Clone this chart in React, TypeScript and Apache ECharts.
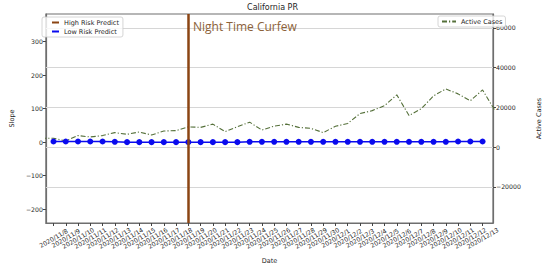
import React, { useEffect, useRef } from "react";
import * as echarts from "echarts";

// Tick labels / categories (one per observed day)
const dates: string[] = [
  "2020/11/8", "2020/11/9", "2020/11/10", "2020/11/11", "2020/11/12", "2020/11/13",
  "2020/11/14", "2020/11/15", "2020/11/16", "2020/11/17", "2020/11/18", "2020/11/19",
  "2020/11/20", "2020/11/21", "2020/11/22", "2020/11/23", "2020/11/24", "2020/11/25",
  "2020/11/26", "2020/11/27", "2020/11/28", "2020/11/29", "2020/11/30", "2020/12/1",
  "2020/12/2", "2020/12/3", "2020/12/4", "2020/12/5", "2020/12/6", "2020/12/7",
  "2020/12/8", "2020/12/9", "2020/12/10", "2020/12/11", "2020/12/12", "2020/12/13",
];

// Low risk predict slope values (left axis)
const lowRisk: number[] = [
  2, 2, 2, 2, 2, 1, 0, 0, 0, 0, 0, 0, 0, 0, 0, 0, 1, 1,
  1, 1, 1, 1, 1, 1, 1, 1, 1, 1, 1, 1, 1, 1, 1, 2, 2, 2,
];

// Active cases (right axis); first value is the day before 2020/11/8, last the day after 2020/12/13
const activeCases: number[] = [
  4470,
  4470, 3130, 5800, 5100, 5800, 7300, 6450, 7600, 6100, 8100, 8300, 10200,
  9930, 11560, 7790, 10270, 12560, 8590, 10570, 11560, 9930, 9430, 7300, 10500,
  11900, 16870, 18360, 20840, 26300, 15880, 19350, 25800, 29280, 26800, 23330, 28790,
  18500,
];

// Curfew marker date index
const curfewIndex = 11;
const curfewLabel = "Night Time Curfew";

const leftTicks: number[] = [-200, -100, 0, 100, 200, 300];
const rightTicks: number[] = [-20000, 0, 20000, 40000, 60000];

const FONT = "DejaVu Sans";
const LABEL = "#262626";

export default function App() {
  const ref = useRef<HTMLDivElement>(null);
  useEffect(() => {
    if (!ref.current) return;
    const chart = echarts.init(ref.current, null, { renderer: "svg" });
    const idx = dates.map((_, i) => i);
    const fmt = (v: number) => (v < 0 ? "\u2212" + Math.abs(v) : String(v));
    const option: any = {
      animation: false,
      backgroundColor: "#ffffff",
      textStyle: { fontFamily: FONT },
      grid: {
        left: 38, right: 43, top: 14, bottom: 43,
        show: true, borderColor: "#6e6e6e", borderWidth: 1.2, backgroundColor: "transparent",
      },
      legend: [
        {
          orient: "vertical", left: 42, top: 17,
          itemWidth: 7, itemHeight: 2, itemGap: 2,
          padding: [2, 4, 2, 10],
          borderColor: "#cccccc", borderWidth: 0.8, borderRadius: 2,
          backgroundColor: "rgba(255,255,255,0.8)",
          textStyle: { fontSize: 6.5, color: LABEL, fontFamily: FONT },
          data: [
            { name: "High Risk Predict", icon: "rect" },
            { name: "Low Risk Predict", icon: "rect" },
          ],
        },
        {
          orient: "vertical", left: 438, top: 16,
          itemWidth: 14, itemHeight: 6, itemGap: 2,
          padding: [2, 3, 2, 3],
          borderColor: "#cccccc", borderWidth: 0.8, borderRadius: 2,
          backgroundColor: "rgba(255,255,255,0.8)",
          textStyle: { fontSize: 6.5, color: LABEL, fontFamily: FONT },
          itemStyle: { opacity: 0 },
          data: [{ name: "Active Cases" }],
        },
      ],
      xAxis: {
        type: "value",
        min: -0.62, max: 35.85,
        name: "Date", nameLocation: "middle", nameGap: 34,
        nameTextStyle: { fontSize: 6.5, color: LABEL, fontFamily: FONT },
        axisLine: { show: true, onZero: false, lineStyle: { color: "#6e6e6e", width: 1.2 } },
        axisTick: { show: true, length: 3, customValues: idx, lineStyle: { color: "#444" } },
        axisLabel: {
          customValues: idx,
          formatter: (v: number) => dates[Math.round(v)] ?? "",
          rotate: 30, align: "center", verticalAlign: "middle", margin: 15,
          fontSize: 6.2, color: LABEL, fontFamily: FONT,
        },
        splitLine: { show: false },
      },
      yAxis: [
        {
          type: "value", position: "left",
          min: -241, max: 382,
          name: "Slope", nameLocation: "middle", nameGap: 28,
          nameTextStyle: { fontSize: 6.5, color: LABEL, fontFamily: FONT },
          axisLine: { show: true, onZero: false, lineStyle: { color: "#6e6e6e", width: 1.2 } },
          axisTick: { show: true, length: 3, customValues: leftTicks, lineStyle: { color: "#444" } },
          axisLabel: {
            customValues: leftTicks, fontSize: 6.2, color: LABEL, margin: 3, fontFamily: FONT,
            formatter: fmt,
          },
          splitLine: { show: false },
        },
        {
          type: "value", position: "right",
          min: -38200, max: 67000,
          name: "Active Cases", nameLocation: "middle", nameGap: 42, nameRotate: 90,
          nameTextStyle: { fontSize: 6.5, color: LABEL, fontFamily: FONT },
          axisLine: { show: true, onZero: false, lineStyle: { color: "#6e6e6e", width: 1.2 } },
          axisTick: { show: true, length: 3, customValues: rightTicks, lineStyle: { color: "#444" } },
          axisLabel: {
            customValues: rightTicks, fontSize: 6.2, color: LABEL, margin: 3, fontFamily: FONT,
            formatter: fmt,
          },
          splitLine: { show: false },
        },
      ],
      series: [
        {
          name: "Active Cases", type: "line", yAxisIndex: 1,
          data: activeCases.map((v, i) => [i - 1, v]),
          symbol: "none", clip: true, z: 2,
          color: "#55703a",
          lineStyle: { color: "#55703a", width: 1.1, type: [5, 2, 1.2, 2] },
          markLine: {
            silent: true, symbol: "none", label: { show: false },
            lineStyle: { color: "#d6d6d6", width: 1, type: "solid" },
            data: rightTicks.map((t) => ({ yAxis: t })),
            z: 1,
          },
        },
        {
          name: "Low Risk Predict", type: "line", yAxisIndex: 0,
          data: lowRisk.map((v, i) => [i, v]),
          symbol: "circle", symbolSize: 6, z: 3,
          color: "#0a0aee",
          itemStyle: { color: "#0a0aee" },
          lineStyle: { color: "#0a0aee", width: 1.5 },
        },
        {
          name: "High Risk Predict", type: "line", yAxisIndex: 0,
          data: [],
          color: "#8B4513",
          lineStyle: { color: "#8B4513", width: 2.5 },
          markLine: {
            silent: true, symbol: "none", label: { show: false },
            lineStyle: { color: "#8B4513", width: 2.5, type: "solid" },
            data: [{ xAxis: curfewIndex }],
            z: 5,
          },
        },
      ],
      graphic: [
        {
          type: "text", x: 272.5, y: 7,
          style: {
            text: "California PR", fill: LABEL, font: `8px "${FONT}"`,
            align: "center", verticalAlign: "middle",
          },
        },
        {
          type: "text", x: 193, y: 26,
          style: {
            text: curfewLabel, fill: "#8c6239", font: `12px "Open Sans"`,
            align: "left", verticalAlign: "middle",
          },
          z: 10,
        },
      ],
    };
    chart.setOption(option);
    return () => chart.dispose();
  }, []);
  return (
    <div
      ref={ref}
      style={{ position: "fixed", left: 0, top: 0, width: 550, height: 269, background: "#fff" }}
    />
  );
}
